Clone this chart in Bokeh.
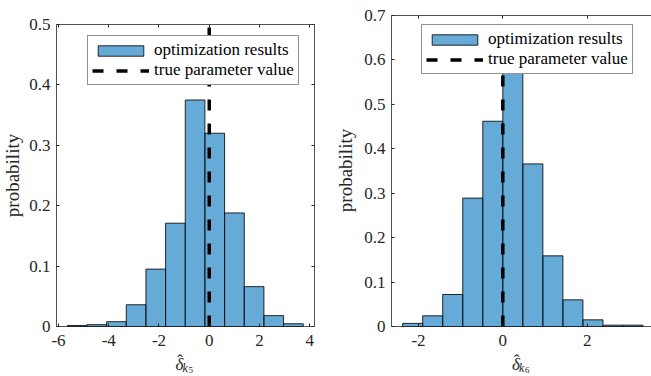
import math
from bokeh.plotting import figure
from bokeh.models import (LinearAxis, FixedTicker, CustomJSTickFormatter, Legend,
                          LegendItem, Range1d, Label)
from bokeh.layouts import row
from bokeh.embed import file_html
from bokeh.resources import INLINE

# ---------------- data ----------------
k5_edges = [-5.65, -4.867, -4.085, -3.302, -2.52, -1.737, -0.954, -0.172,
            0.611, 1.394, 2.176, 2.959, 3.741]
k5_prob = [0.0017, 0.003, 0.008, 0.036, 0.095, 0.171, 0.375, 0.320,
           0.188, 0.066, 0.018, 0.0045]
k5_true = 0.0
k5_xticks = [-6, -4, -2, 0, 2, 4]
k5_yticks = [0, 0.1, 0.2, 0.3, 0.4, 0.5]
k5_xlim = (-6.08, 4.19)
k5_ylim = (0, 0.5)
k5_sub = "5"

k6_edges = [-2.375, -1.9, -1.425, -0.95, -0.475, 0.0, 0.475, 0.95,
            1.425, 1.9, 2.375, 2.85, 3.325]
k6_prob = [0.007, 0.024, 0.072, 0.289, 0.462, 0.648, 0.366, 0.159,
           0.060, 0.015, 0.003, 0.003]
k6_true = 0.0
k6_xticks = [-2, 0, 2]
k6_yticks = [0, 0.1, 0.2, 0.3, 0.4, 0.5, 0.6, 0.7]
k6_xlim = (-2.64, 3.526)
k6_ylim = (0, 0.7)
k6_sub = "6"

legend_labels = ["optimization results", "true parameter value"]
y_label = "probability"
x_symbol = "δ"
x_hat = "ˆ"
x_index = "k"

# ---------------- style ----------------
FONT = "'Liberation Serif', 'Times New Roman', 'DejaVu Serif', serif"
AX = "#262626"
BAR = "#0072BD"
TICK_FS = "17px"
FIG_H = 376


def styled_axis(ax, ticks, labels=True):
    ax.ticker = FixedTicker(ticks=ticks)
    ax.axis_line_color = AX
    ax.axis_line_width = 0.8
    ax.major_tick_line_color = AX
    ax.major_tick_in = 3
    ax.major_tick_out = 0
    ax.minor_tick_line_color = None
    ax.major_label_text_font = FONT
    ax.major_label_text_font_size = TICK_FS if labels else "0px"
    ax.major_label_text_color = AX
    if not labels:
        ax.formatter = CustomJSTickFormatter(code="return '';")
        ax.major_label_standoff = 0


def panel(edges, prob, true_val, xticks, yticks, xlim, ylim, sub, width,
          box, right_box, legend_loc, xl, yl):
    # box = (left, top, right, bottom) of the axes box in figure pixels
    bl, bt, br, bb = box
    sx = (br - bl) / (xlim[1] - xlim[0])
    sy = (bb - bt) / (ylim[1] - ylim[0])
    xr = Range1d(xlim[0] - bl / sx, xlim[1] + (width - br) / sx)
    yr = Range1d(ylim[0] - (FIG_H - bb) / sy, ylim[1] + bt / sy)
    p = figure(width=width, height=FIG_H, x_range=xr, y_range=yr,
               output_backend="svg", toolbar_location=None,
               min_border_left=0, min_border_right=0,
               min_border_top=0, min_border_bottom=0,
               background_fill_color="white", border_fill_color="white")
    p.outline_line_color = None
    p.xgrid.visible = False
    p.ygrid.visible = False

    q = p.quad(left=edges[:-1], right=edges[1:], bottom=0, top=prob,
               fill_color=BAR, fill_alpha=0.6, line_color="#111111", line_width=0.9)
    ln = p.line(x=[true_val, true_val], y=[ylim[0], ylim[1]], line_color="black",
                line_width=3.5, line_dash="11 13")

    xa = p.xaxis[0]
    styled_axis(xa, xticks)
    xa.formatter = CustomJSTickFormatter(code="return tick.toFixed(0);")
    xa.major_label_standoff = 8
    xa.fixed_location = ylim[0]
    xa.bounds = xlim

    ya = p.yaxis[0]
    styled_axis(ya, yticks)
    ya.formatter = CustomJSTickFormatter(
        code="return Math.abs(tick) < 1e-9 ? '0' : tick.toFixed(1);")
    ya.major_label_standoff = 6
    ya.fixed_location = xlim[0]
    ya.bounds = ylim

    top = LinearAxis()
    styled_axis(top, xticks, labels=False)
    top.fixed_location = ylim[1]
    top.bounds = (xlim[0], xr.end) if not right_box else xlim
    p.add_layout(top, "above")
    if right_box:
        rt = LinearAxis()
        styled_axis(rt, yticks, labels=False)
        rt.fixed_location = xlim[1]
        rt.bounds = ylim
        p.add_layout(rt, "right")

    leg = Legend(items=[LegendItem(label=legend_labels[0], renderers=[q]),
                        LegendItem(label=legend_labels[1], renderers=[ln])],
                 location=legend_loc, margin=0, padding=4, spacing=0,
                 glyph_width=57, glyph_height=13, label_height=17, label_standoff=5,
                 label_text_font=FONT, label_text_font_size="17px",
                 label_text_color="black",
                 border_line_color=AX, border_line_width=1,
                 background_fill_color="white", background_fill_alpha=1)
    p.add_layout(leg)

    common = dict(x_units="screen", y_units="screen", text_font=FONT, text_color=AX)
    # y label
    p.add_layout(Label(x=yl[0], y=yl[1], text=y_label, angle=math.pi / 2,
                       text_font_size="19px", text_align="center",
                       text_baseline="bottom", **common))
    # x label: hat-delta with subscript k_n
    p.add_layout(Label(x=xl, y=12, text=x_symbol, text_font_size="17px",
                       text_font_style="italic", text_align="left",
                       text_baseline="alphabetic", **common))
    p.add_layout(Label(x=xl + 4.5, y=16, text=x_hat, text_font_size="17px",
                       text_align="center", text_baseline="alphabetic", **common))
    p.add_layout(Label(x=xl + 7, y=8.5, text=x_index, text_font_size="12px",
                       text_font_style="italic", text_align="left",
                       text_baseline="alphabetic", **common))
    p.add_layout(Label(x=xl + 13, y=7, text=sub, text_font_size="9px",
                       text_align="left", text_baseline="alphabetic", **common))
    return p


p1 = panel(k5_edges, k5_prob, k5_true, k5_xticks, k5_yticks, k5_xlim, k5_ylim,
           k5_sub, width=330, box=(56, 24, 314, 326), right_box=True,
           legend_loc=(87, 291), xl=175, yl=(22, 201))
p2 = panel(k6_edges, k6_prob, k6_true, k6_xticks, k6_yticks, k6_xlim, k6_ylim,
           k6_sub, width=321, box=(61, 15, 321, 326), right_box=False,
           legend_loc=(91, 302), xl=181.5, yl=(25, 206))

layout = row(p1, p2, spacing=0)
open("out.html", "w").write(file_html(layout, INLINE))
